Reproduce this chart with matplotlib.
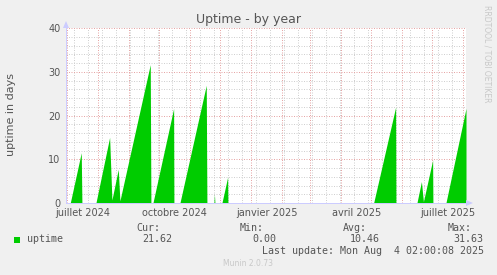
import matplotlib
matplotlib.use('Agg')
import matplotlib.pyplot as plt
import matplotlib.dates as mdates
from matplotlib.ticker import FixedLocator
from matplotlib.patches import Polygon, Rectangle
import pandas as pd

W, H = 497, 275

# uptime in days, corners of the area
dates = ['2024-07-04 08:00', '2024-07-15 08:00', '2024-07-16 00:00',
         '2024-07-30 00:00', '2024-08-12 17:00', '2024-08-15 00:00',
         '2024-08-21 08:00', '2024-08-23 00:00', '2024-09-22 08:00',
         '2024-09-23 00:00',
         '2024-09-25 00:00', '2024-10-15 17:00', '2024-10-16 00:00',
         '2024-10-22 00:00', '2024-11-17 08:00', '2024-11-18 00:00',
         '2024-11-25 00:00', '2024-11-25 12:00', '2024-11-26 00:00',
         '2024-12-03 00:00', '2024-12-08 17:00', '2024-12-09 00:00',
         '2025-05-03 17:00', '2025-05-25 17:00', '2025-05-26 00:00',
         '2025-06-16 00:00', '2025-06-20 12:00', '2025-06-22 12:00',
         '2025-07-01 17:00', '2025-07-02 00:00',
         '2025-07-15 00:00', '2025-08-04 02:00']
uptime = [0, 11.5, 0,
          0, 15.0, 0.7,
          7.7, 0.5, 31.63,
          0,
          0, 21.6, 0,
          0, 26.9, 0,
          0, 2.0, 0,
          0, 5.9, 0,
          0, 21.9, 0,
          0, 4.9, 0.3,
          9.8, 0,
          0, 21.62]

label_dates = ['2024-07-17', '2024-10-17', '2025-01-17', '2025-04-17', '2025-07-17']
label_names = ['juillet 2024', 'octobre 2024', 'janvier 2025', 'avril 2025', 'juillet 2025']

cur, vmin, avg, vmax = '21.62', '0.00', '10.46', '31.63'
last_update = 'Last update: Mon Aug  4 02:00:08 2025'

start = pd.Timestamp('2024-06-30 02:00')
end = pd.Timestamp('2025-08-04 02:00')

txt = '#555555'
red = '#e6a6a6'
grey = '#d0d0d0'
axc = '#ccccff'
green = '#00cc00'


def px(x, y):
    return (x / W, 1 - y / H)


fig = plt.figure(figsize=(W / 100, H / 100), dpi=100, facecolor='#f0f0f0')
ax = fig.add_axes([66 / W, (H - 203) / H, 400 / W, 175 / H])
ax.set_facecolor('white')

t = pd.to_datetime(dates)
ax.fill_between(t, uptime, 0, color=green, linewidth=0, zorder=3)

ax.set_xlim(start, end)
ax.set_ylim(0, 40)

ax.xaxis.set_major_locator(mdates.MonthLocator())
ax.xaxis.set_minor_locator(FixedLocator(
    mdates.date2num(pd.date_range('2024-07-08', '2025-08-04', freq='14D'))))
ax.set_yticks(range(0, 41, 10))
ax.set_yticks(range(0, 41, 2), minor=True)
ax.set_xticklabels([])
ax.tick_params(axis='x', which='both', length=0)
ax.tick_params(axis='y', which='both', length=0, pad=4, labelsize=7, labelcolor=txt)

ax.grid(which='minor', color=grey, linestyle=(0, (1, 1.5)), linewidth=0.72, zorder=1)
ax.grid(which='major', color=red, linestyle=(0, (1, 1.5)), linewidth=0.72, zorder=2)
ax.set_axisbelow(True)

for s in ['top', 'right']:
    ax.spines[s].set_visible(False)
for s in ['left', 'bottom']:
    ax.spines[s].set_color(axc)
    ax.spines[s].set_linewidth(0.72)
    ax.spines[s].set_zorder(4)

for d, name in zip(label_dates, label_names):
    ax.text(pd.Timestamp(d), -9.7 / 175, name, transform=ax.get_xaxis_transform(),
            ha='center', va='center', fontsize=7, color=txt)

# arrows at the axis ends
fig.add_artist(Polygon([px(63, 28), px(69, 28), px(66, 21)], closed=True,
                       transform=fig.transFigure, color=axc, lw=0))
fig.add_artist(Polygon([px(466, 200), px(466, 206), px(473, 203)], closed=True,
                       transform=fig.transFigure, color=axc, lw=0))

fig.text(*px(248.5, 19), 'Uptime - by year', ha='center', va='center',
         fontsize=9, color=txt)
fig.text(*px(11, 115), 'uptime in days', ha='center', va='center',
         rotation=90, fontsize=8, color=txt)
fig.text(*px(487, 5), 'RRDTOOL / TOBI OETIKER', ha='center', va='top',
         rotation=270, fontsize=5.5, color='#c8c8c8')

mono = dict(family='DejaVu Sans Mono', fontsize=7.2, color=txt, va='center')
fig.add_artist(Rectangle(px(14, 243), 6 / W, 6 / H, transform=fig.transFigure,
                         facecolor=green, edgecolor='none'))
fig.text(*px(27, 239.5), 'uptime', **mono)
for x0, head, x1, val in [(136.7, 'Cur:', 142.3, cur), (240, 'Min:', 252.3, vmin),
                          (342.7, 'Avg:', 349.3, avg), (447.3, 'Max:', 453.3, vmax)]:
    fig.text(*px(x0, 228), head, **mono)
    fig.text(*px(x1, 239.5), val, **mono)
fig.text(*px(261.7, 251), last_update, **mono)

fig.text(*px(248, 264), 'Munin 2.0.73', ha='center', va='center',
         fontsize=5.5, color='#c8c8c8')

fig.savefig('out.png', dpi=100, facecolor=fig.get_facecolor())
